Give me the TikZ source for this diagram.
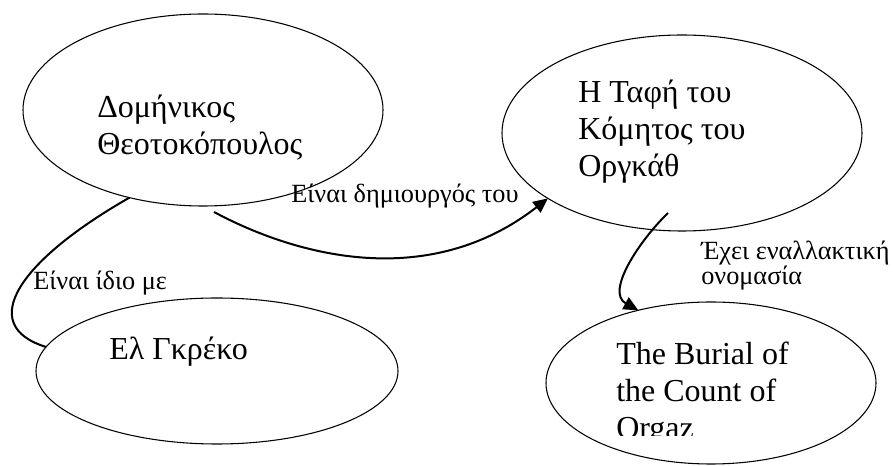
\documentclass[tikz,border=0pt]{standalone}
\usepackage{fontspec}
\setmainfont{Liberation Serif}
\usetikzlibrary{arrows.meta,shapes.geometric}
\tikzset{
	concept/.style={draw, ellipse, line width=.8pt, inner sep=0pt, outer sep=0pt},
	term/.style={anchor=base west, inner sep=0pt, align=left, font=\fontsize{24}{27.75}\selectfont},
	relation/.style={anchor=base west, inner sep=0pt, align=left, font=\fontsize{19.7}{18}\selectfont},
	link/.style={line width=1.5pt},
}
\begin{document}
\begin{tikzpicture}[x=.75pt, y=-.75pt, >={Triangle[length=11pt,width=10pt]}]
	\useasboundingbox (0,0) rectangle (894,466);
	% the four concepts
	\node[concept, minimum width=270pt, minimum height=144pt] (dom) at (203,110) {};
	\node[concept, minimum width=270pt, minimum height=147pt] (taf) at (682,133) {};
	\node[concept, minimum width=271.5pt, minimum height=109.5pt] (elg) at (217,371) {};
	\node[concept, minimum width=247.5pt, minimum height=121.5pt] (bur) at (711,383) {};
	% base west is the baseline of the last line
	\node[term] (ldom) at (97,155) {Δομήνικος\\Θεοτοκόπουλος};
	\node[term] (ltaf) at (578,177) {Η Ταφή του\\Κόμητος του\\Οργκάθ};
	\node[term] (lelg) at (109,360) {Ελ Γκρέκο};
	\begin{scope}
		\clip (600,300) rectangle (800,436);
		\node[term] (lbur) at (616,439) {The Burial of\\the Count of\\Orgaz};
	\end{scope}
	% relations
	\draw[link] (dom.230) .. controls (20,260) and (-25,325) .. (elg.172);
	\node[relation] (rsame) at (33,290) {Είναι ίδιο με};
	\draw[link,->] ([shift={(11,6)}]dom.south) .. controls (300,258) and (430,290) .. (taf.206);
	\node[relation] (rmaker) at (291,203) {Είναι δημιουργός του};
	\draw[link,->] ([shift={(-14,80)}]taf.center) .. controls (640,240) and (605,292) .. (bur.135);
	\node[relation] (ralt) at (701,285) {Έχει εναλλακτική\\ονομασία};
\end{tikzpicture}
\end{document}
